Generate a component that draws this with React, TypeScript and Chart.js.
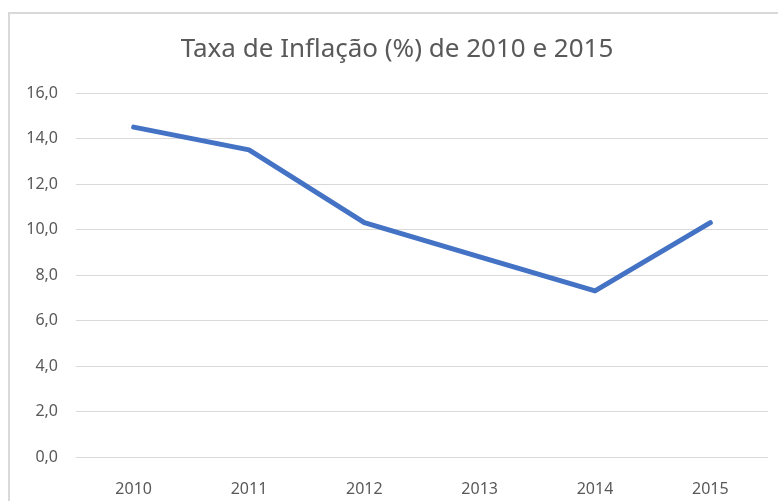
import React, { useEffect, useRef } from "react";
import { Chart, registerables } from "chart.js";

Chart.register(...registerables);

const categories: string[] = ["2010", "2011", "2012", "2013", "2014", "2015"];
const inflation: number[] = [14.5, 13.5, 10.3, 8.8, 7.3, 10.3];
const titleText = "Taxa de Inflação (%) de 2010 e 2015";
const yMin = 0;
const yMax = 16;
const yStep = 2;

export default function App() {
  const ref = useRef<HTMLCanvasElement | null>(null);

  useEffect(() => {
    if (!ref.current) return;
    const chart = new Chart(ref.current, {
      type: "line",
      data: {
        labels: categories,
        datasets: [
          {
            label: "Inflação",
            data: inflation,
            borderColor: "#4472C4",
            backgroundColor: "#4472C4",
            borderWidth: 5,
            borderCapStyle: "round",
            borderJoinStyle: "round",
            pointRadius: 0,
            pointHoverRadius: 0,
            tension: 0,
            fill: false,
          },
        ],
      },
      options: {
        animation: false,
        responsive: false,
        devicePixelRatio: 1,
        layout: { padding: { left: 26, right: 10, top: 0, bottom: 0 } },
        plugins: {
          legend: { display: false },
          tooltip: { enabled: false },
          title: {
            display: true,
            text: titleText,
            color: "#595959",
            font: { family: "'Noto Sans', sans-serif", size: 26, weight: "normal", lineHeight: 1.2 },
            padding: { top: 34, bottom: 27.8 },
          },
        },
        scales: {
          x: {
            offset: true,
            grid: { display: false },
            border: { display: false },
            ticks: {
              color: "#595959",
              font: { family: "'Noto Sans', sans-serif", size: 16 },
              padding: 15,
              maxRotation: 0,
            },
            afterFit: (scale: any) => {
              scale.height = 44;
            },
          },
          y: {
            min: yMin,
            max: yMax,
            grid: { color: "#d9d9d9", lineWidth: 1, drawTicks: false },
            border: { display: false },
            ticks: {
              stepSize: yStep,
              color: "#595959",
              font: { family: "'Noto Sans', sans-serif", size: 16 },
              padding: 18,
              callback: (v: any) => Number(v).toFixed(1).replace(".", ","),
            },
            afterFit: (scale: any) => {
              scale.width = 50;
            },
          },
        },
      },
    });
    return () => chart.destroy();
  }, []);

  return (
    <div
      style={{
        position: "absolute",
        left: 0,
        top: 0,
        width: 778,
        height: 501,
        overflow: "hidden",
        background: "#ffffff",
      }}
    >
      <canvas
        ref={ref}
        width={778}
        height={501}
        style={{ position: "absolute", left: 0, top: 0, width: 778, height: 501 }}
      />
      <div
        style={{
          position: "absolute",
          left: 8,
          top: 12,
          width: 820,
          height: 540,
          border: "2px solid #d9d9d9",
          boxSizing: "border-box",
          pointerEvents: "none",
        }}
      />
    </div>
  );
}
